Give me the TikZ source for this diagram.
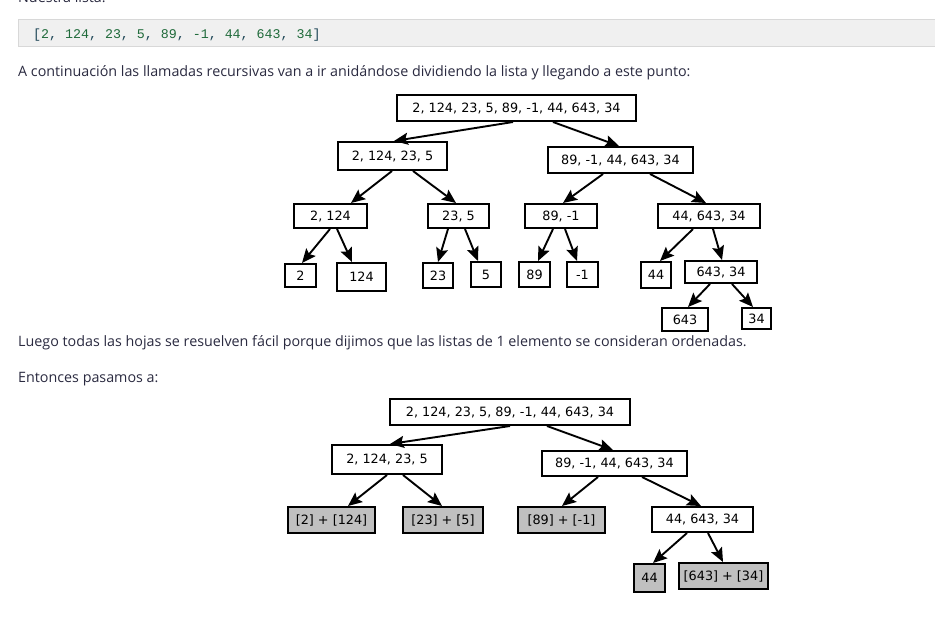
\documentclass[tikz,border=0pt]{standalone}
\usepackage{fontspec}
\setmainfont{Open Sans}
\setsansfont{DejaVu Sans}
\setmonofont{Liberation Mono}
\usetikzlibrary{arrows.meta}
\definecolor{bodytxt}{HTML}{2A2A40}
\definecolor{codebg}{HTML}{F0F0F0}
\definecolor{codeborder}{HTML}{D8D8D8}
\definecolor{numc}{HTML}{1F6A3A}
\definecolor{punc}{HTML}{204858}
\definecolor{leafgray}{HTML}{C0C0C0}
\newcommand\cn[1]{\textcolor{numc}{#1}}
\newcommand\cp[1]{\textcolor{punc}{#1}}
\tikzset{
  treebox/.style={draw=black, line width=2pt, inner sep=0pt, fill=white,
    font=\sffamily\fontsize{12.8}{14}\selectfont, text=black},
  graybox/.style={treebox, fill=leafgray},
  arr/.style={line width=1.9pt, -{Stealth[length=14pt,width=12pt,inset=2.5pt]}},
  bodytext/.style={anchor=base west, inner sep=0pt, text=bodytxt,
    font=\fontsize{14.3}{16}\selectfont}
}
\newcommand\bx[7]{\node[#7, minimum width=#4pt, minimum height=#5pt] (#1) at (#2,#3) {#6};}
\begin{document}
\begin{tikzpicture}[x=1pt,y=-1pt]
\useasboundingbox (0,0) rectangle (935,626);
\clip (0,0) rectangle (935,626);
\fill[white] (0,0) rectangle (935,626);
% text
\node[bodytext] (t0) at (18,3) {Nuestra lista:};
\draw[codeborder, fill=codebg, line width=1pt] (18,20) rectangle (945,47);
\node[anchor=base west, inner sep=0pt, font=\ttfamily\fontsize{13.3}{15}\selectfont] (code) at (33,38.5)
 {\cp{[}\cn{2}\cp{,} \cn{124}\cp{,} \cn{23}\cp{,} \cn{5}\cp{,} \cn{89}\cp{,} \cn{-1}\cp{,} \cn{44}\cp{,} \cn{643}\cp{,} \cn{34}\cp{]}};
\node[bodytext] (t1) at (18,77) {A continuación las llamadas recursivas van a ir anidándose dividiendo la lista y llegando a este punto:};
\node[bodytext] (t2) at (18,346) {Luego todas las hojas se resuelven fácil porque dijimos que las listas de 1 elemento se consideran ordenadas.};
\node[bodytext] (t3) at (18,382) {Entonces pasamos a:};
% tree 1
\bx{root}{516.5}{108}{239}{26}{2, 124, 23, 5, 89, -1, 44, 643, 34}{treebox}
\bx{L}{392.5}{156}{109}{28}{2, 124, 23, 5}{treebox}
\bx{R}{620.5}{160}{145}{26}{89, -1, 44, 643, 34}{treebox}
\bx{a}{330.5}{216}{73}{24}{2, 124}{treebox}
\bx{b}{458.5}{216}{61}{24}{23, 5}{treebox}
\bx{c}{561}{216}{72}{24}{89, -1}{treebox}
\bx{d}{709}{216}{102}{24}{44, 643, 34}{treebox}
\bx{l2}{300.5}{275.5}{31}{23}{2}{treebox}
\bx{l124}{361.5}{277}{49}{28}{124}{treebox}
\bx{l23}{438}{275.5}{30}{25}{23}{treebox}
\bx{l5}{486}{274.5}{30}{25}{5}{treebox}
\bx{l89}{534.5}{274.5}{31}{25}{89}{treebox}
\bx{lm1}{582.5}{274.5}{31}{25}{-1}{treebox}
\bx{l44}{656}{275}{30}{26}{44}{treebox}
\bx{e}{721}{272}{72}{22}{643, 34}{treebox}
\bx{l643}{685}{319.5}{46}{23}{643}{treebox}
\bx{l34}{756.5}{318.5}{29}{21}{34}{treebox}
\draw[arr] (root.south -| 513,0) -- (L.north -| 394,0);
\draw[arr] (root.south -| 553,0) -- (R.north -| 619,0);
\draw[arr] (L.south -| 392,0) -- (a.north -| 351,0);
\draw[arr] (L.south -| 413,0) -- (b.north -| 456,0);
\draw[arr] (R.south -| 603,0) -- (c.north -| 563,0);
\draw[arr] (R.south -| 650,0) -- (d.north -| 706,0);
\draw[arr] (a.south -| 330,0) -- (l2.north -| 302,0);
\draw[arr] (a.south -| 337,0) -- (l124.north -| 352,0);
\draw[arr] (b.south -| 448,0) -- (l23.north -| 438,0);
\draw[arr] (b.south -| 465,0) -- (l5.north -| 478,0);
\draw[arr] (c.south -| 553,0) -- (l89.north -| 538,0);
\draw[arr] (c.south -| 565,0) -- (lm1.north -| 577,0);
\draw[arr] (d.south -| 693,0) -- (l44.north -| 660,0);
\draw[arr] (d.south -| 713,0) -- (e.north -| 722,0);
\draw[arr] (e.south -| 710,0) -- (l643.north -| 688,0);
\draw[arr] (e.south -| 732,0) -- (l34.north -| 753,0);
% tree 2
\bx{root2}{510}{412}{240}{26}{2, 124, 23, 5, 89, -1, 44, 643, 34}{treebox}
\bx{L2}{387}{459.5}{110}{29}{2, 124, 23, 5}{treebox}
\bx{R2}{614.5}{463.5}{145}{25}{89, -1, 44, 643, 34}{treebox}
\bx{g1}{331.5}{520}{87}{26}{[2] + [124]}{graybox}
\bx{g2}{443}{520}{80}{26}{[23] + [5]}{graybox}
\bx{g3}{561.5}{520}{87}{26}{[89] + [-1]}{graybox}
\bx{f}{702.5}{519.5}{101}{25}{44, 643, 34}{treebox}
\bx{g44}{649.5}{578}{31}{28}{44}{graybox}
\bx{g643}{723.5}{576}{89}{26}{[643] + [34]}{graybox}
\draw[arr] (root2.south -| 510,0) -- (L2.north -| 390,0);
\draw[arr] (root2.south -| 547,0) -- (R2.north -| 613,0);
\draw[arr] (L2.south -| 387,0) -- (g1.north -| 348,0);
\draw[arr] (L2.south -| 403,0) -- (g2.north -| 442,0);
\draw[arr] (R2.south -| 598,0) -- (g3.north -| 562,0);
\draw[arr] (R2.south -| 642,0) -- (f.north -| 701,0);
\draw[arr] (f.south -| 687,0) -- (g44.north -| 653,0);
\draw[arr] (f.south -| 708,0) -- (g643.north -| 723,0);
\end{tikzpicture}
\end{document}
